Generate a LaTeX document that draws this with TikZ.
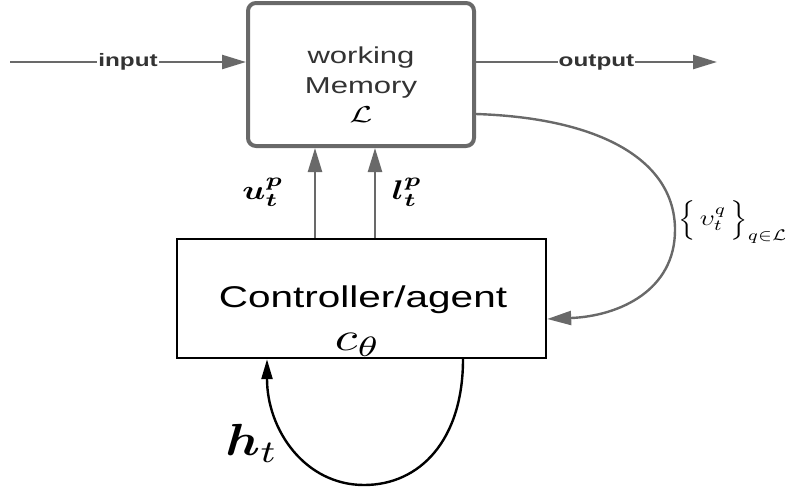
\documentclass[tikz,border=0pt]{standalone}
\usepackage{amsmath}
\usepackage{fontspec}
\setmainfont{Liberation Sans}
\usetikzlibrary{arrows.meta}

% all lettering is set slightly wide
\newcommand{\xstr}[1]{\scalebox{1.35}[1]{#1}}
% formulas: set at 10pt, then enlarged by #1 across and #2 up
\newcommand{\mxy}[3]{\scalebox{#1}[#2]{\fontsize{10}{12}\selectfont #3}}
\definecolor{linegray}{HTML}{696969}
\definecolor{textgray}{HTML}{333333}

\tikzset{
  membox/.style={draw=linegray, line width=4pt, rounded corners=8pt,
    minimum width=226pt, minimum height=143pt, inner sep=0pt},
  ctrlbox/.style={draw=black, line width=2.4pt,
    minimum width=369pt, minimum height=119pt, inner sep=0pt},
  flow/.style={draw=linegray, line width=2.4pt,
    -{Triangle[length=24pt,width=14pt]}},
  loopline/.style={draw=black, line width=2.4pt,
    -{Triangle[length=20pt,width=11pt]}},
  iolabel/.style={fill=white, inner sep=1pt, text=textgray,
    font=\fontsize{18}{20}\selectfont\bfseries},
  memtext/.style={text=textgray, inner sep=0pt, anchor=base,
    font=\fontsize{23}{25}\selectfont},
  mathlabel/.style={inner sep=0pt},
}

\begin{document}
\begin{tikzpicture}[x=1pt,y=-1pt]
\useasboundingbox (0,0) rectangle (785,491);

% the two blocks
\node[membox] (mem) at (361,74.5) {};
\node[ctrlbox] (ctrl) at (361.5,298.5) {};

% lettering inside the memory block
\node[memtext] (memw) at (361,63) {\xstr{working}};
\node[memtext] (memm) at (361,93) {\xstr{Memory}};
\node[mathlabel] (meml) at (361,115) {\mxy{3.3}{2.3}{$\mathcal{L}$}};

% lettering inside the controller block
\node[inner sep=0pt, anchor=base] (ctrlt) at (363,307)
  {\fontsize{30}{32}\selectfont\xstr{Controller/agent}};
\node[mathlabel, anchor=base] (ctrlc) at (358,350)
  {\mxy{5.2}{4.0}{$c_\theta$}};

% input and output
\coordinate (in) at (10,62);
\coordinate (out) at (717,62);
\draw[flow] (in) -- (in -| mem.west)
  node[iolabel, midway] (inl) {\xstr{input}};
\draw[flow] (out -| mem.east) -- (out)
  node[iolabel, midway] (outl) {\xstr{output}};

% controller writes into memory
\draw[flow] ([xshift=-46.5pt]ctrl.north) -- ([xshift=-46.5pt]ctrl.north |- mem.south);
\draw[flow] ([xshift=13.5pt]ctrl.north) -- ([xshift=13.5pt]ctrl.north |- mem.south);
\node[mathlabel] (ulab) at (263,192)
  {\mxy{3.4}{2.7}{$\boldsymbol{u}_{\boldsymbol{t}}^{\boldsymbol{p}}$}};
\node[mathlabel] (llab) at (407,192)
  {\mxy{3.4}{2.7}{$\boldsymbol{l}_{\boldsymbol{t}}^{\boldsymbol{p}}$}};

% memory read back into the controller
\draw[flow] ([yshift=-39.5pt]mem.east)
  .. controls (600,118) and (675,160) .. (675,230)
  .. controls (675,290) and (620,316) .. ([yshift=-20.5pt]ctrl.east);
\node[mathlabel] (vlab) at (733,222)
  {\mxy{2.6}{2.2}{$\Bigl\{\,\upsilon_t^q\,\Bigr\}_{q\in\mathcal{L}}$}};

% recurrent hidden state
\draw[loopline] ([xshift=101.5pt]ctrl.south)
  .. controls (463,440) and (420,485) .. (364,485)
  .. controls (305,485) and (267,430) .. ([xshift=-94.5pt]ctrl.south);
\node[mathlabel] (hlab) at (252,443)
  {\mxy{5.2}{4.5}{$\boldsymbol{h}_{t}$}};
\end{tikzpicture}
\end{document}
